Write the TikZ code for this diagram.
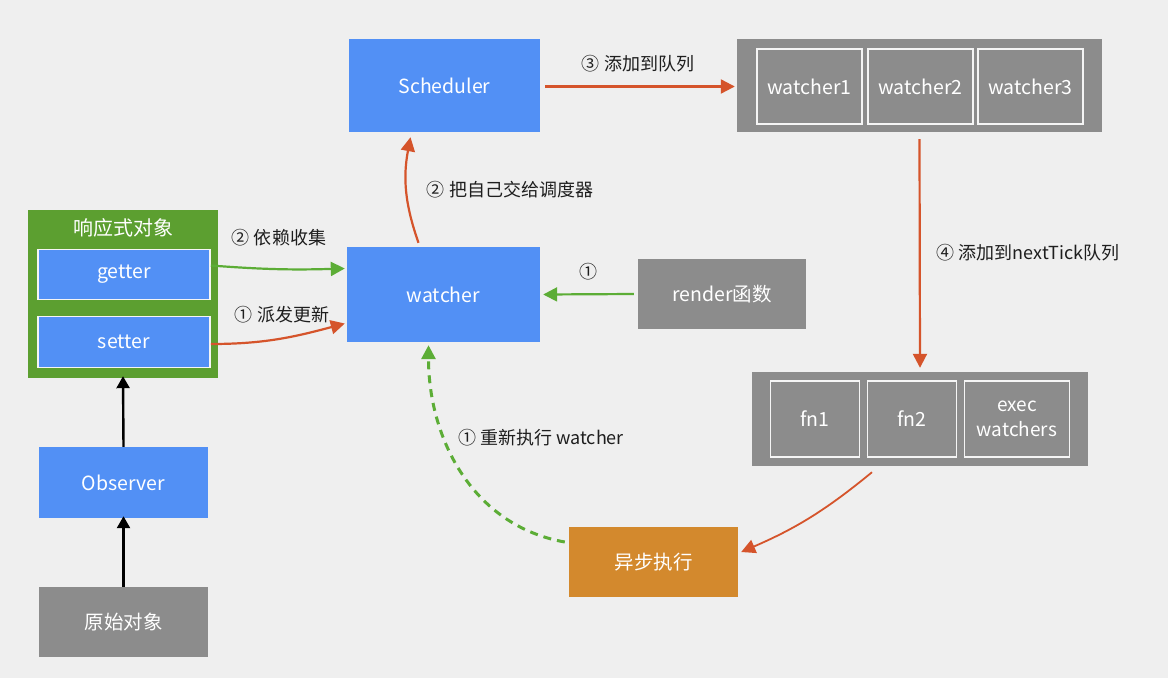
\documentclass[tikz,border=0pt]{standalone}
\usepackage{fontspec}
\setmainfont{Noto Sans CJK SC}
\usetikzlibrary{arrows.meta}
\definecolor{bg}{HTML}{EFEFEF}
\definecolor{boxblue}{HTML}{5290F5}
\definecolor{boxgray}{HTML}{8C8C8C}
\definecolor{boxgreen}{HTML}{5C9F30}
\definecolor{boxorange}{HTML}{D3892D}
\definecolor{arrred}{HTML}{D5542B}
\definecolor{arrgreen}{HTML}{5CAD36}
\definecolor{labeltext}{HTML}{1E1E1E}
\tikzset{
  box/.style={rectangle, inner sep=0pt, text=white, font=\fontsize{19.5}{23}\selectfont, align=center},
  bluebox/.style={box, fill=boxblue},
  graybox/.style={box, fill=boxgray},
  innerbox/.style={box, draw=white!92!gray, line width=1.6pt},
  lbl/.style={text=labeltext, font=\fontsize{18}{21}\selectfont, inner sep=0pt},
  redarr/.style={draw=arrred, line width=2.2pt, -{Triangle[length=14pt,width=14pt]}},
  greenarr/.style={draw=arrgreen, line width=2.2pt, -{Triangle[length=14pt,width=14pt]}},
  blackarr/.style={draw=black, line width=2.4pt, -{Triangle[length=12pt,width=13pt]}},
}
\begin{document}
\begin{tikzpicture}[x=1pt,y=1pt]
\fill[bg] (0,0) rectangle (1168,-678);
\useasboundingbox (0,0) rectangle (1168,-678);

% reactive object container
\node[box, fill=boxgreen, minimum width=190pt, minimum height=168pt] (resp) at (123,-294) {};
\node[lbl, text=white, font=\fontsize{20}{23}\selectfont] (resptitle) at (123,-228) {响应式对象};
\node[innerbox, fill=boxblue, minimum width=172pt, minimum height=50pt] (getter) at (124,-274.5) {getter};
\node[innerbox, fill=boxblue, minimum width=172pt, minimum height=51pt] (setter) at (124,-342) {setter};

\node[bluebox, minimum width=169pt, minimum height=71pt] (observer) at (123.5,-482.5) {Observer};
\node[graybox, minimum width=169pt, minimum height=70pt] (raw) at (123.5,-622) {原始对象};

\node[bluebox, minimum width=193pt, minimum height=95pt] (watcher) at (443.5,-294.5) {watcher};
\node[bluebox, minimum width=191pt, minimum height=93pt] (scheduler) at (444.5,-85.5) {Scheduler};

% watcher queue
\node[graybox, minimum width=365pt, minimum height=93pt] (queue) at (919.5,-85.5) {};
\node[innerbox, minimum width=105pt, minimum height=75pt] (w1) at (809.5,-86.5) {watcher1};
\node[innerbox, minimum width=105pt, minimum height=75pt] (w2) at (920.5,-86.5) {watcher2};
\node[innerbox, minimum width=105pt, minimum height=75pt] (w3) at (1030.5,-86.5) {watcher3};

\node[graybox, minimum width=168pt, minimum height=70pt] (render) at (722,-294) {render函数};

% nextTick queue
\node[graybox, minimum width=336pt, minimum height=94pt] (fnq) at (920,-419) {};
\node[innerbox, minimum width=89pt, minimum height=76pt] (fn1) at (815,-419) {fn1};
\node[innerbox, minimum width=89pt, minimum height=76pt] (fn2) at (912,-419) {fn2};
\node[innerbox, minimum width=105pt, minimum height=76pt, font=\fontsize{19}{25}\selectfont] (exec) at (1017,-419) {exec\\watchers};

\node[box, fill=boxorange, minimum width=169pt, minimum height=70pt] (async) at (653.5,-562) {异步执行};

% arrows
\draw[blackarr] (raw.north) -- ([yshift=2pt]observer.south);
\draw[blackarr] (observer.north) -- ([yshift=2pt]resp.south);

\draw[greenarr] ([yshift=9pt]getter.east) to[bend left=-3] ([xshift=-2pt,yshift=26pt]watcher.west);
\draw[redarr] ([yshift=-2pt]setter.east) to[out=0,in=195] ([xshift=-2pt,yshift=-29pt]watcher.west);
\draw[redarr] ([xshift=-25pt,yshift=4pt]watcher.north) to[bend left=15] ([xshift=-34pt,yshift=-5pt]scheduler.south);
\draw[redarr] ([xshift=5pt,yshift=-1pt]scheduler.east) -- ([xshift=-2pt,yshift=-1pt]queue.west);
\draw[redarr] ([yshift=-7pt]queue.south) -- ([yshift=4pt]fnq.north);
\draw[greenarr] ([xshift=-4pt]render.west) -- ([xshift=3pt]watcher.east);
\draw[redarr, line width=1.8pt] ([xshift=-48pt,yshift=-6pt]fnq.south) to[bend left=8] ([xshift=3pt,yshift=10pt]async.east);
\draw[greenarr, dash pattern=on 8pt off 6pt, line width=3pt] ([xshift=-4pt,yshift=20pt]async.west) to[out=170,in=-90] ([xshift=-15pt,yshift=-3pt]watcher.south);

% labels
\node[lbl] (l1) at (279,-238) {② 依赖收集};
\node[lbl] (l2) at (282,-315) {① 派发更新};
\node[lbl] (l3) at (510,-190) {② 把自己交给调度器};
\node[lbl] (l4) at (638,-64) {③ 添加到队列};
\node[lbl] (l5) at (1028,-253) {④ 添加到nextTick队列};
\node[lbl] (l6) at (588,-272) {①};
\node[lbl] (l7) at (541,-438) {① 重新执行 watcher};
\end{tikzpicture}
\end{document}
